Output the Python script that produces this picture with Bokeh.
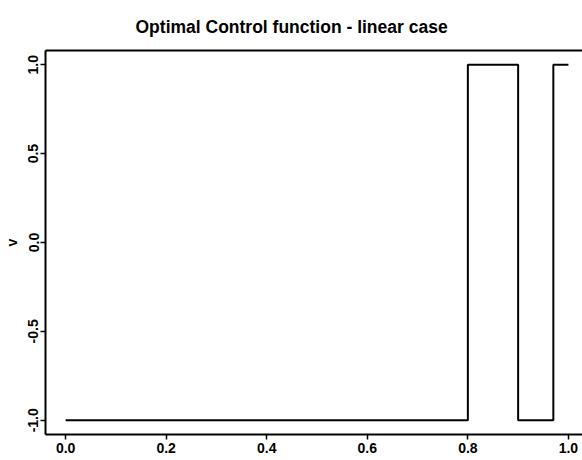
from bokeh.plotting import figure
from bokeh.models import Range1d, FixedTicker, LinearAxis
from bokeh.embed import file_html
from bokeh.resources import INLINE

# ---- data ----
switch_times = [0.0, 0.8, 0.9, 0.97]      # times where the control switches
control_values = [-1.0, 1.0, -1.0, 1.0]   # control value after each switch
t_end = 1.0

x_ticks = [0.0, 0.2, 0.4, 0.6, 0.8, 1.0]
x_tick_labels = ["0.0", "0.2", "0.4", "0.6", "0.8", "1.0"]
y_ticks = [-1.0, -0.5, 0.0, 0.5, 1.0]
y_tick_labels = ["-1.0", "-0.5", "0.0", "0.5", "1.0"]

title_text = "Optimal Control function - linear case"
y_label = "v"

# step path built from the switch data
xs, ys = [], []
bounds = switch_times + [t_end]
for i, v in enumerate(control_values):
    xs += [bounds[i], bounds[i + 1]]
    ys += [v, v]

FONT = "Liberation Sans"

p = figure(width=582, height=460, output_backend="svg", toolbar_location=None,
           x_range=Range1d(-0.04, 1.028), y_range=Range1d(-1.08, 1.08),
           x_axis_location=None, y_axis_location=None,
           min_border_left=45, min_border_right=0, min_border_top=49,
           min_border_bottom=26)
p.outline_line_color = None
p.xgrid.visible = False
p.ygrid.visible = False
p.background_fill_color = "white"
p.border_fill_color = "white"

p.title.text = title_text
p.title.align = "left"
p.title.offset = 90
p.title.standoff = 28
p.title.text_font = FONT
p.title.text_font_size = "17.5px"
p.title.text_font_style = "bold"
p.title.text_color = "black"

p.line(xs, ys, line_color="black", line_width=2)

def style(ax):
    ax.axis_line_color = "black"
    ax.axis_line_width = 2
    ax.major_tick_line_color = "black"
    ax.major_tick_line_width = 1.5
    ax.major_tick_in = 0
    ax.major_tick_out = 5
    ax.minor_tick_line_color = None
    ax.major_label_text_font = FONT
    ax.major_label_text_font_size = "14px"
    ax.major_label_text_font_style = "bold"
    ax.major_label_text_color = "black"

xa = LinearAxis(ticker=FixedTicker(ticks=x_ticks),
                major_label_overrides={t: l for t, l in zip(x_ticks, x_tick_labels)})
style(xa)
xa.major_label_standoff = 3
p.add_layout(xa, "below")

ya = LinearAxis(ticker=FixedTicker(ticks=y_ticks),
                major_label_overrides={t: l for t, l in zip(y_ticks, y_tick_labels)},
                axis_label=y_label)
style(ya)
ya.major_label_standoff = 2
ya.major_label_orientation = "vertical"
ya.axis_label_standoff = 6
ya.axis_label_text_font = FONT
ya.axis_label_text_font_size = "14px"
ya.axis_label_text_font_style = "bold"
ya.axis_label_text_color = "black"
p.add_layout(ya, "left")

# top border line of the plot box
top = LinearAxis(ticker=FixedTicker(ticks=[]))
top.axis_line_color = "black"
top.axis_line_width = 2
top.major_tick_line_color = None
top.major_tick_out = 0
top.major_tick_in = 0
top.minor_tick_line_color = None
top.major_label_standoff = 0
p.add_layout(top, "above")

open("out.html", "w").write(file_html(p, INLINE))
